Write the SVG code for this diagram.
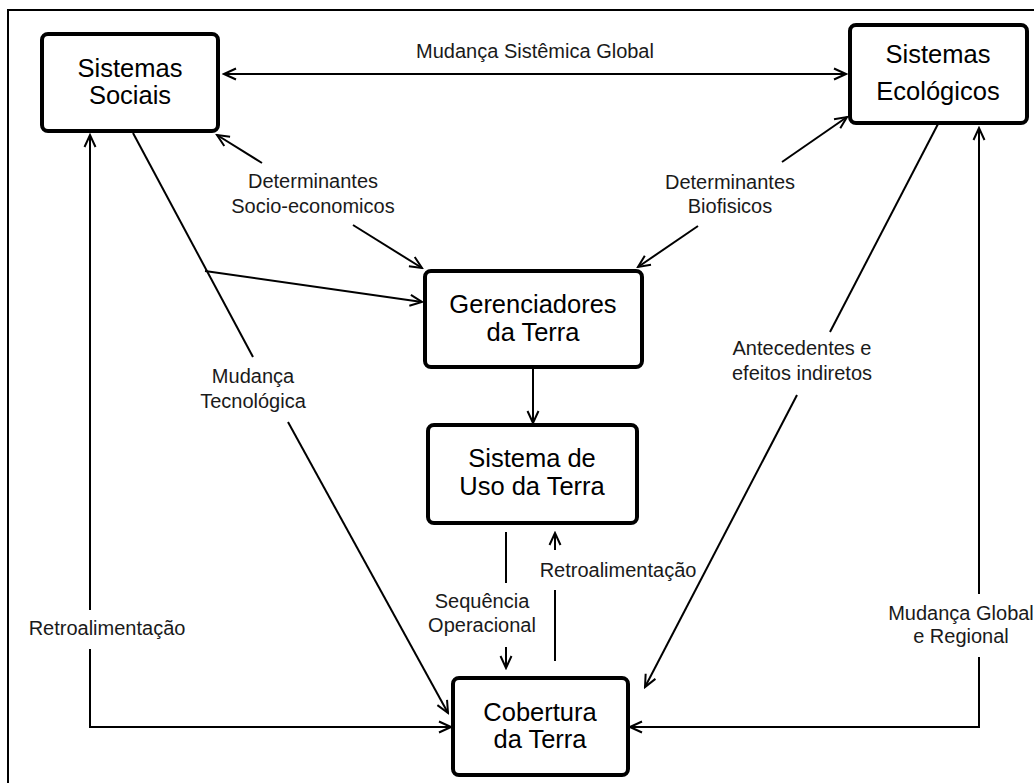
<svg xmlns="http://www.w3.org/2000/svg" width="1034" height="783" viewBox="0 0 1034 783">
<style>
.node rect{fill:#fff;stroke:#000;stroke-width:4}
.node text{font-family:"Liberation Sans",Arial,sans-serif;font-size:25.5px;fill:#000;text-anchor:middle}
.lbl{font-family:"Liberation Sans",Arial,sans-serif;font-size:20px;fill:#1a1a1a;text-anchor:middle}
.c{fill:none;stroke:#000;stroke-width:2}
.a{marker-end:url(#ah)}
</style>
<defs>
<marker id="ah" markerUnits="userSpaceOnUse" markerWidth="16" markerHeight="14" viewBox="-14 -7 16 14" refX="0" refY="0" orient="auto-start-reverse">
<path d="M-12,-5.5 L0,0 L-12,5.5" fill="none" stroke="#000" stroke-width="2"/>
</marker>
</defs>
<rect x="8" y="10" width="1040" height="790" fill="#fff" stroke="#000" stroke-width="2"/>
<g id="connectors">
<line class="c" x1="224" y1="74" x2="846" y2="74" marker-start="url(#ah)" marker-end="url(#ah)"/>
<line class="c a" x1="262" y1="163" x2="217" y2="135"/>
<line class="c a" x1="353" y1="225" x2="422" y2="268"/>
<line class="c a" x1="782" y1="162" x2="847" y2="117"/>
<line class="c a" x1="698" y1="226" x2="638" y2="267"/>
<line class="c" x1="133" y1="133" x2="253" y2="357"/>
<line class="c a" x1="288" y1="422" x2="448" y2="713"/>
<line class="c a" x1="205" y1="271" x2="422" y2="302"/>
<line class="c a" x1="533" y1="369" x2="533" y2="423"/>
<line class="c" x1="506" y1="532" x2="506" y2="583"/>
<line class="c a" x1="506" y1="647" x2="506" y2="668"/>
<line class="c" x1="555" y1="661" x2="555" y2="590"/>
<line class="c a" x1="555" y1="550" x2="555" y2="533"/>
<line class="c" x1="938" y1="124" x2="830" y2="332"/>
<line class="c a" x1="797" y1="395" x2="645" y2="687"/>
<line class="c a" x1="90" y1="610" x2="90" y2="135"/>
<polyline class="c a" points="90,649 90,727 451,727"/>
<line class="c a" x1="979" y1="594" x2="979" y2="128"/>
<polyline class="c a" points="979,657 979,727 630,727"/>
<text class="lbl" x="535" y="58">Mudança Sistêmica Global</text>
<text class="lbl" x="313" y="188">Determinantes</text>
<text class="lbl" x="313" y="213">Socio-economicos</text>
<text class="lbl" x="730" y="189">Determinantes</text>
<text class="lbl" x="730" y="213">Biofisicos</text>
<text class="lbl" x="253" y="383">Mudança</text>
<text class="lbl" x="253" y="408">Tecnológica</text>
<text class="lbl" x="802" y="355">Antecedentes e</text>
<text class="lbl" x="802" y="380">efeitos indiretos</text>
<text class="lbl" x="482" y="608">Sequência</text>
<text class="lbl" x="482" y="632">Operacional</text>
<text class="lbl" x="618" y="577">Retroalimentação</text>
<text class="lbl" x="107" y="635">Retroalimentação</text>
<text class="lbl" x="961" y="620">Mudança Global</text>
<text class="lbl" x="961" y="643">e Regional</text>
</g>
<g id="sistemas-sociais" class="node">
<rect x="42" y="34" width="176" height="97" rx="6"/>
<text x="130" y="77">Sistemas</text>
<text x="130" y="104">Sociais</text>
</g>
<g id="sistemas-ecologicos" class="node">
<rect x="850" y="25" width="177" height="98" rx="6"/>
<text x="938" y="63">Sistemas</text>
<text x="938" y="100">Ecológicos</text>
</g>
<g id="gerenciadores" class="node">
<rect x="425" y="271" width="217" height="96" rx="6"/>
<text x="533" y="313">Gerenciadores</text>
<text x="533" y="341">da Terra</text>
</g>
<g id="sistema-uso" class="node">
<rect x="428" y="425" width="209" height="98" rx="6"/>
<text x="532" y="467">Sistema de</text>
<text x="532" y="495">Uso da Terra</text>
</g>
<g id="cobertura" class="node">
<rect x="453" y="678" width="175" height="97" rx="6"/>
<text x="540" y="721">Cobertura</text>
<text x="540" y="748">da Terra</text>
</g>
</svg>
